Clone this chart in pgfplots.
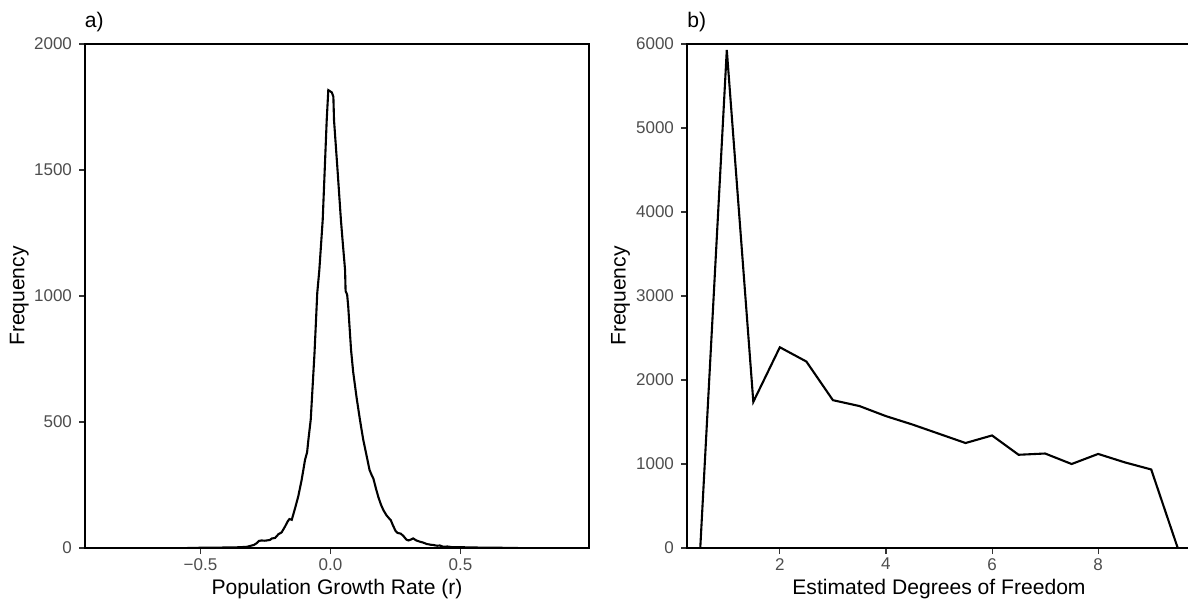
\documentclass[border=0pt]{standalone}
\usepackage{fontspec}
\setmainfont{Liberation Sans}
\usepackage{pgfplots}
\pgfplotsset{compat=1.18}
\definecolor{gthirty}{HTML}{4D4D4D}
\definecolor{gtwenty}{HTML}{333333}
\newcommand\lbl{\fontsize{10.55}{12}\selectfont}
\newcommand\tck{\fontsize{8.5}{10}\selectfont}
\begin{document}
\begin{tikzpicture}
\pgfplotsset{
  myax/.style={
    scale only axis, width=252pt, height=252pt,
    axis line style={line width=1.4pt, black},
    tick align=outside, tick pos=left,
    major tick length=3pt,
    every tick/.style={gtwenty, line width=0.55pt},
    ticklabel style={font=\tck, text=gthirty},
    xticklabel style={yshift=1.4pt},
    /pgf/number format/assume math mode=true,
    /pgf/number format/1000 sep={},
    scaled ticks=false,
    clip=true,
    axis on top,
  }
}
\begin{axis}[myax, at={(42.5pt,-274pt)}, anchor=south west,
  xmin=-0.944, xmax=0.994, ymin=0, ymax=2000,
  xtick={-0.5,0,0.5}, xticklabels={−0.5,0.0,0.5},
  ytick={0,500,1000,1500,2000}]
\addplot[black, line width=1.05pt] coordinates {
(-0.55,0) (-0.50,1) (-0.40,2) (-0.35,3) (-0.32,5) (-0.31,8) (-0.295,12)
(-0.284,19) (-0.275,28) (-0.265,30) (-0.255,29) (-0.245,30) (-0.233,32) (-0.225,38)
(-0.213,40) (-0.20,55) (-0.188,62) (-0.175,85) (-0.165,105) (-0.158,115) (-0.149,112)
(-0.137,155) (-0.124,205) (-0.111,270) (-0.098,350) (-0.090,380) (-0.085,430)
(-0.076,510) (-0.0615,774) (-0.051,1012) (-0.043,1103) (-0.030,1302) (-0.0146,1698)
(-0.0085,1817) (-0.001,1812) (0.005,1808) (0.011,1791) (0.0135,1698) (0.027,1500)
(0.040,1302) (0.048,1200) (0.056,1103) (0.058,1020) (0.064,1005) (0.068,960)
(0.079,786) (0.087,700) (0.100,599) (0.113,510) (0.126,429) (0.138,370) (0.150,310)
(0.158,290) (0.165,275) (0.175,235) (0.184,202) (0.194,172) (0.203,151) (0.215,130)
(0.225,118) (0.232,110) (0.240,90) (0.250,68) (0.258,60) (0.270,57) (0.280,48)
(0.292,33) (0.300,30) (0.310,34) (0.318,38) (0.330,30) (0.344,25) (0.355,22)
(0.370,16) (0.385,13) (0.395,12) (0.410,9) (0.420,10) (0.434,5) (0.45,6) (0.47,3)
(0.51,3) (0.55,2) (0.65,1) (0.72,0)
};
\end{axis}
\begin{axis}[myax, at={(343.5pt,-274pt)}, anchor=south west,
  xmin=0.25, xmax=9.75, ymin=0, ymax=6000,
  xtick={2,4,6,8},
  ytick={0,1000,2000,3000,4000,5000,6000}]
\addplot[black, line width=1.05pt] coordinates {
(0.5,0) (1,5930) (1.5,1740) (2,2390) (2.5,2220) (3,1760) (3.5,1690) (4,1570)
(4.5,1470) (5,1360) (5.5,1250) (6,1340) (6.5,1110) (7,1125) (7.5,1000) (8,1120)
(8.5,1020) (9,935) (9.5,0)
};
\end{axis}
\node[anchor=base west, inner sep=0pt, font=\lbl] at (42.2pt,-13.6pt) {a)};
\node[anchor=base west, inner sep=0pt, font=\lbl] at (343.5pt,-13.6pt) {b)};
\node[rotate=90, inner sep=0pt, font=\lbl] at (9.6pt,-148pt) {Frequency};
\node[rotate=90, inner sep=0pt, font=\lbl] at (310.3pt,-148pt) {Frequency};
\node[inner sep=0pt, font=\lbl] at (168.5pt,-294.3pt) {Population Growth Rate (r)};
\node[inner sep=0pt, font=\lbl] at (469.5pt,-294.3pt) {Estimated Degrees of Freedom};
\pgfresetboundingbox
\path[use as bounding box] (0,0) rectangle (594pt,-300.5pt);
\end{tikzpicture}
\end{document}
